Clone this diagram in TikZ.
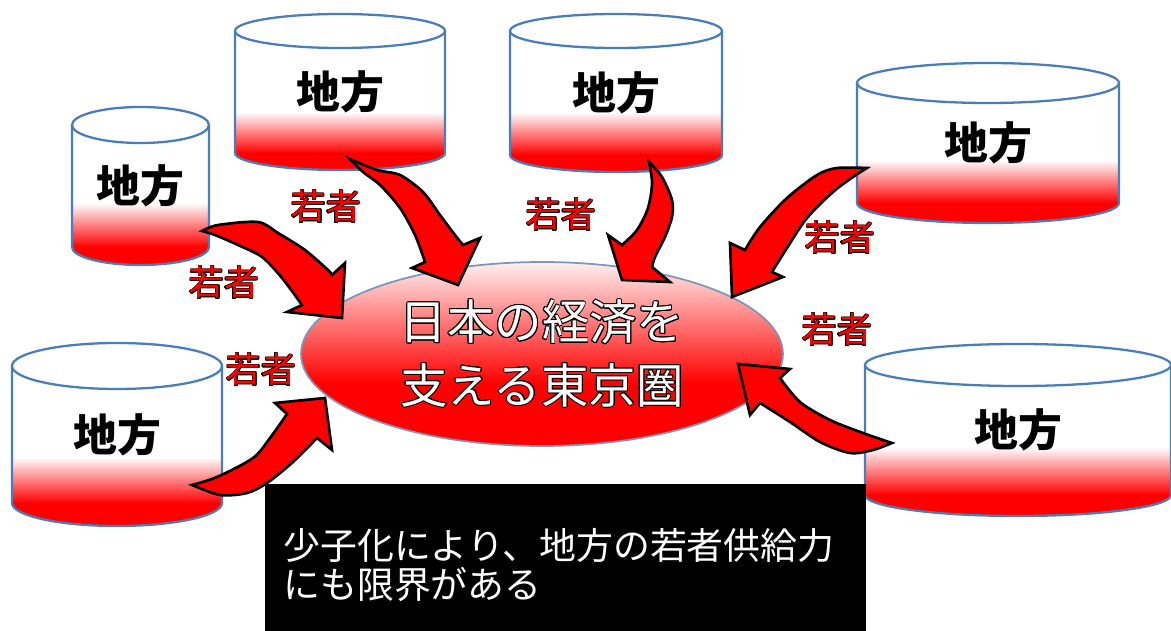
\documentclass[tikz,border=0pt]{standalone}
\usepackage{fontspec}
\usepackage[copies]{contour}
\usetikzlibrary{shapes.geometric}
\setmainfont{Noto Sans CJK JP}
\definecolor{drumblue}{HTML}{4A7EBB}
\definecolor{rimgray}{HTML}{7F96B8}
\pgfdeclareverticalshading{tokyoshade}{100bp}{color(0bp)=(red); color(42bp)=(red); color(75bp)=(red!6); color(100bp)=(red!6)}

\tikzset{
  drumedge/.style={draw=drumblue, line width=1.3pt},
  drumtext/.style={font=\fontsize{25}{25}\selectfont\bfseries},
  flow/.style={fill=red, draw=black, line width=1.5pt, line join=miter},
  youth/.style={text=red, font=\fontsize{20}{20}\selectfont\contourlength{0.4pt}},
}

% one drum: name, centre x, top y, bottom y, half width, half height, start of the red
\newcommand{\drum}[7]{%
  \begin{scope}
    \clip (#2-#5,#3) -- (#2-#5,#4) arc[start angle=180,end angle=0,x radius=#5,y radius=#6]
      -- (#2+#5,#3) arc[start angle=0,end angle=-180,x radius=#5,y radius=#6] -- cycle;
    \fill[white] (#2-#5,#3-#6) rectangle (#2+#5,#4+#6);
    \shade[top color=white, bottom color=red] (#2-#5,#7) rectangle (#2+#5,#4);
    \fill[red] (#2-#5,#4) rectangle (#2+#5,#4+#6);
  \end{scope}
  \draw[drumedge] (#2-#5,#3) -- (#2-#5,#4) arc[start angle=180,end angle=0,x radius=#5,y radius=#6] -- (#2+#5,#3);
  \draw[drumedge] (#2,#3) ellipse[x radius=#5,y radius=#6];
  \node[drumtext] (#1) at (#2,{(#3+#4)/2}) {地方};
}

\begin{document}
\begin{tikzpicture}[x=0.02cm, y=-0.02cm]
  \useasboundingbox (0,0) rectangle (1171,631);
  \drum{chiho1}{140.5}{125}{247}{68.5}{18}{203}
  \drum{chiho2}{340}{31}{153}{105}{17}{112}
  \drum{chiho3}{616}{31}{155}{106}{17}{112}
  \drum{chiho4}{988}{83}{203}{131}{20}{160}
  \drum{chiho5}{1018}{365}{495}{153}{21}{447}
  \drum{chiho6}{117}{366}{503}{105}{23}{457}

  \node[ellipse, draw=rimgray, line width=1pt, shade, shading=tokyoshade,
    minimum width=9.64cm, minimum height=3.68cm, inner sep=0pt, text=white, align=center,
    font=\fontsize{27}{36}\selectfont\contourlength{0.55pt}]
    (tokyo) at (542,354) {\contour{black}{日本の経済を}\\\contour{black}{支える東京圏}};

  % young people flowing in
  \draw[flow] plot[smooth] coordinates {(202,231) (218,225) (258,222) (278,233) (305,250) (328,270) (332,275)}
    -- (345,263) -- (342,318) -- (287,312)
    -- plot[smooth] coordinates {(302,305) (282,278) (262,257) (238,245) (215,235) (202,231)} -- cycle;
  \draw[flow] plot[smooth] coordinates {(350,159) (377,170) (400,175) (423,192) (440,215) (455,235) (463,245)}
    -- (480,238) -- (458,285) -- (412,268)
    -- plot[smooth] coordinates {(425,262) (415,235) (400,208) (380,185) (363,172) (350,159)} -- cycle;
  \draw[flow] plot[smooth] coordinates {(649,162) (662,177) (672,200) (672,217) (665,237) (655,257) (652,267)}
    -- (670,282) -- (622,280) -- (608,235)
    -- plot[smooth] coordinates {(622,245) (637,230) (648,208) (652,183) (649,162)} -- cycle;
  \draw[flow] plot[smooth] coordinates {(867,168) (837,168) (817,175) (787,198) (760,227) (745,250)}
    -- (730,243) -- (732,297) -- (783,277)
    -- plot[smooth] coordinates {(772,272) (787,248) (807,218) (833,192) (853,177) (867,168)} -- cycle;
  \draw[flow] plot[smooth] coordinates {(892,443) (863,433) (830,420) (800,402) (780,378)}
    -- (790,369) -- (738,364) -- (750,415)
    -- plot[smooth] coordinates {(760,403) (790,422) (820,442) (850,453) (873,450) (892,443)} -- cycle;
  \draw[flow] plot[smooth] coordinates {(192,485) (217,477) (253,458) (270,438) (287,414)}
    -- (275,403) -- (325,398) -- (332,450)
    -- plot[smooth] coordinates {(317,438) (293,462) (267,483) (247,493) (220,495) (192,485)} -- cycle;

  \node[youth] (young1) at (326,207) {\contour{black}{若者}};
  \node[youth] (young2) at (224,283) {\contour{black}{若者}};
  \node[youth] (young3) at (261,370) {\contour{black}{若者}};
  \node[youth] (young4) at (561,215) {\contour{black}{若者}};
  \node[youth] (young5) at (840,238) {\contour{black}{若者}};
  \node[youth] (young6) at (837,330) {\contour{black}{若者}};

  \node[fill=black, text=white, anchor=north west, minimum width=12.02cm, minimum height=3.22cm,
    text width=11.3cm, inner xsep=0.36cm, align=left, font=\fontsize{21}{22}\selectfont]
    (note) at (265,484) {少子化により、地方の若者供給力\\にも限界がある};
\end{tikzpicture}
\end{document}
